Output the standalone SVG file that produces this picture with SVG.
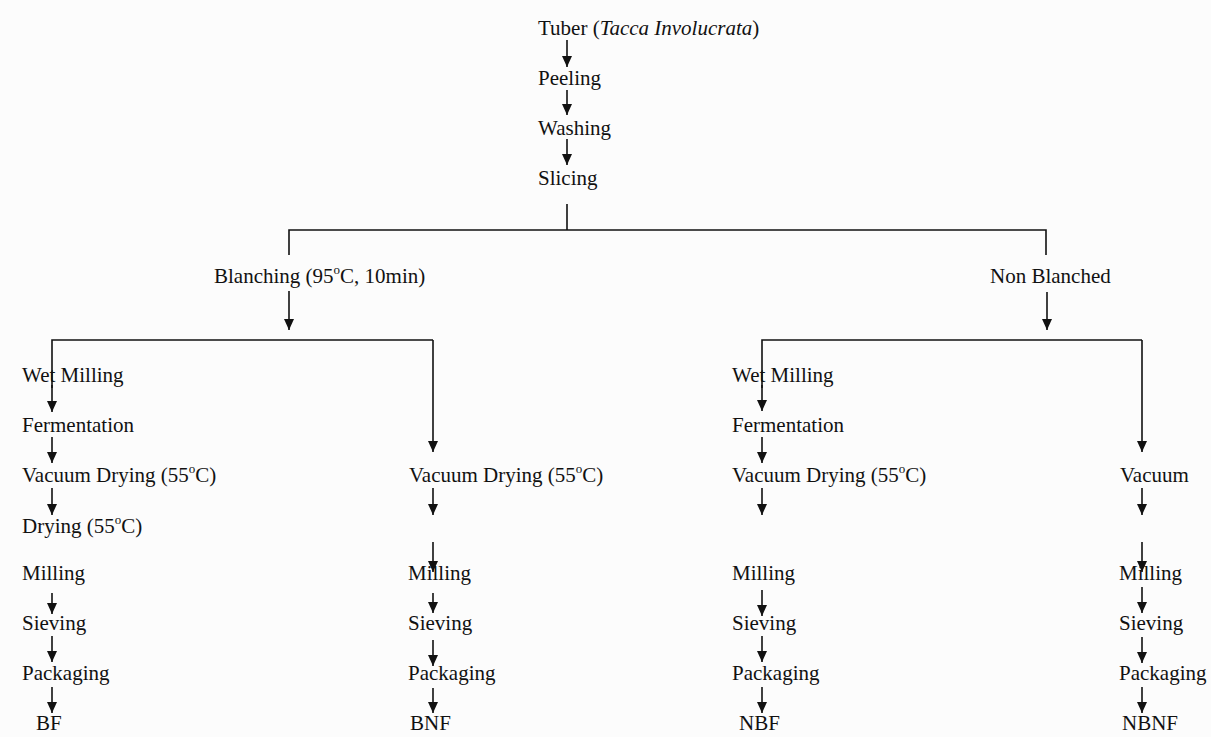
<svg xmlns="http://www.w3.org/2000/svg" width="1211" height="737" viewBox="0 0 1211 737">
<style>
text{font-family:"Liberation Serif","Times New Roman",serif;font-size:21px;fill:#111}
.sup{font-size:13px}
.c line,.c path{stroke:#111;stroke-width:1.6;fill:none}
</style>
<defs>
<marker id="ah" markerUnits="userSpaceOnUse" markerWidth="11" markerHeight="10" refX="11" refY="5" orient="auto">
<path d="M0,0 L11,5 L0,10 z" fill="#111"/>
</marker>
</defs>
<rect width="1211" height="737" fill="#fcfcfc"/>
<g class="c" id="connectors">
<line x1="567" y1="40" x2="567" y2="67" marker-end="url(#ah)"/>
<line x1="567" y1="90" x2="567" y2="115" marker-end="url(#ah)"/>
<line x1="567" y1="139" x2="567" y2="165" marker-end="url(#ah)"/>
<path d="M567,204 V230 M289,255 V230 H1046 V255"/>
<line x1="289" y1="291" x2="289" y2="330" marker-end="url(#ah)"/>
<line x1="1047" y1="292" x2="1047" y2="330" marker-end="url(#ah)"/>
<path d="M52,388 V340 H433"/>
<line x1="52" y1="385" x2="52" y2="412" marker-end="url(#ah)"/>
<line x1="433" y1="340" x2="433" y2="452" marker-end="url(#ah)"/>
<line x1="52" y1="437" x2="52" y2="463" marker-end="url(#ah)"/>
<line x1="52" y1="488" x2="52" y2="515" marker-end="url(#ah)"/>
<line x1="52" y1="593" x2="52" y2="614" marker-end="url(#ah)"/>
<line x1="52" y1="636" x2="52" y2="662" marker-end="url(#ah)"/>
<line x1="52" y1="687" x2="52" y2="713" marker-end="url(#ah)"/>
<line x1="433" y1="488" x2="433" y2="515" marker-end="url(#ah)"/>
<line x1="433" y1="542" x2="433" y2="572" marker-end="url(#ah)"/>
<line x1="433" y1="593" x2="433" y2="613" marker-end="url(#ah)"/>
<line x1="433" y1="640" x2="433" y2="666" marker-end="url(#ah)"/>
<line x1="433" y1="688" x2="433" y2="713" marker-end="url(#ah)"/>
<path d="M762,388 V340 H1142"/>
<line x1="762" y1="385" x2="762" y2="411" marker-end="url(#ah)"/>
<line x1="1142" y1="340" x2="1142" y2="452" marker-end="url(#ah)"/>
<line x1="762" y1="437" x2="762" y2="463" marker-end="url(#ah)"/>
<line x1="762" y1="488" x2="762" y2="515" marker-end="url(#ah)"/>
<line x1="762" y1="590" x2="762" y2="616" marker-end="url(#ah)"/>
<line x1="762" y1="636" x2="762" y2="662" marker-end="url(#ah)"/>
<line x1="762" y1="687" x2="762" y2="713" marker-end="url(#ah)"/>
<line x1="1142" y1="488" x2="1142" y2="515" marker-end="url(#ah)"/>
<line x1="1142" y1="542" x2="1142" y2="572" marker-end="url(#ah)"/>
<line x1="1142" y1="587" x2="1142" y2="613" marker-end="url(#ah)"/>
<line x1="1142" y1="637" x2="1142" y2="663" marker-end="url(#ah)"/>
<line x1="1142" y1="687" x2="1142" y2="713" marker-end="url(#ah)"/>
</g>
<g id="tuber"><text x="538" y="35">Tuber (<tspan font-style="italic">Tacca Involucrata</tspan>)</text></g>
<g id="peeling"><text x="538" y="85">Peeling</text></g>
<g id="washing"><text x="538" y="135">Washing</text></g>
<g id="slicing"><text x="538" y="185">Slicing</text></g>
<g id="blanching"><text x="214" y="283">Blanching (95<tspan class="sup" dy="-9">o</tspan><tspan dy="9">C, 10min)</tspan></text></g>
<g id="nonblanched"><text x="990" y="283">Non Blanched</text></g>
<g id="b-wetmilling"><text x="22" y="382">Wet Milling</text></g>
<g id="b-fermentation"><text x="22" y="432">Fermentation</text></g>
<g id="b-vacuumdrying"><text x="22" y="482">Vacuum Drying (55<tspan class="sup" dy="-9">o</tspan><tspan dy="9">C)</tspan></text></g>
<g id="b-drying"><text x="22" y="533">Drying (55<tspan class="sup" dy="-9">o</tspan><tspan dy="9">C)</tspan></text></g>
<g id="b-milling"><text x="22" y="580">Milling</text></g>
<g id="b-sieving"><text x="22" y="630">Sieving</text></g>
<g id="b-packaging"><text x="22" y="680">Packaging</text></g>
<g id="bf"><text x="36" y="730">BF</text></g>
<g id="bn-vacuumdrying"><text x="409" y="482">Vacuum Drying (55<tspan class="sup" dy="-9">o</tspan><tspan dy="9">C)</tspan></text></g>
<g id="bn-milling"><text x="408" y="580">Milling</text></g>
<g id="bn-sieving"><text x="408" y="630">Sieving</text></g>
<g id="bn-packaging"><text x="408" y="680">Packaging</text></g>
<g id="bnf"><text x="410" y="730">BNF</text></g>
<g id="n-wetmilling"><text x="732" y="382">Wet Milling</text></g>
<g id="n-fermentation"><text x="732" y="432">Fermentation</text></g>
<g id="n-vacuumdrying"><text x="732" y="482">Vacuum Drying (55<tspan class="sup" dy="-9">o</tspan><tspan dy="9">C)</tspan></text></g>
<g id="n-milling"><text x="732" y="580">Milling</text></g>
<g id="n-sieving"><text x="732" y="630">Sieving</text></g>
<g id="n-packaging"><text x="732" y="680">Packaging</text></g>
<g id="nbf"><text x="739" y="730">NBF</text></g>
<g id="nn-vacuum"><text x="1120" y="482">Vacuum</text></g>
<g id="nn-milling"><text x="1119" y="580">Milling</text></g>
<g id="nn-sieving"><text x="1119" y="630">Sieving</text></g>
<g id="nn-packaging"><text x="1119" y="680">Packaging</text></g>
<g id="nbnf"><text x="1122" y="730">NBNF</text></g>
</svg>
